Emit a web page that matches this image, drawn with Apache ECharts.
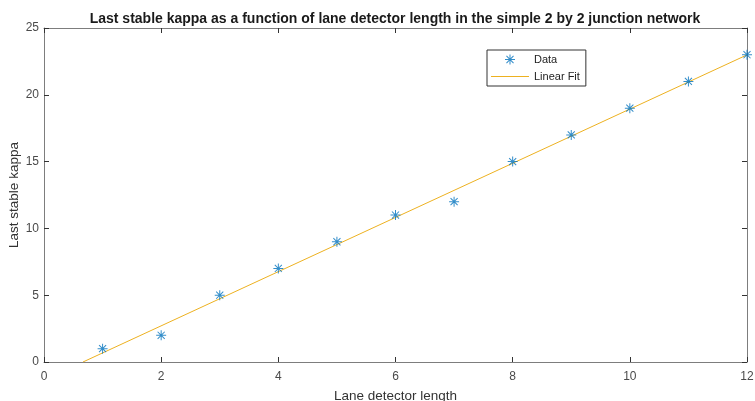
<!DOCTYPE html>
<html>
<head>
<meta charset="utf-8">
<script src="https://cdn.jsdelivr.net/npm/echarts@6/dist/echarts.min.js"></script>
<style>
  html, body { margin: 0; padding: 0; background: #fff; }
  #chart { width: 755px; height: 401px; }
</style>
</head>
<body>
<div id="chart"></div>
<script>
// Lane detector length vs. last stable kappa
const detectorLength = [1, 2, 3, 4, 5, 6, 7, 8, 9, 10, 11, 12];
const stableKappa = [1, 2, 5, 7, 9, 11, 12, 15, 17, 19, 21, 23];
const xTicks = [0, 2, 4, 6, 8, 10, 12];
const yTicks = [0, 5, 10, 15, 20, 25];

// Least-squares straight line through the measurements
function linearFit(xs, ys) {
  const n = xs.length;
  const mx = xs.reduce((a, b) => a + b, 0) / n;
  const my = ys.reduce((a, b) => a + b, 0) / n;
  let sxy = 0, sxx = 0;
  for (let i = 0; i < n; i++) {
    sxy += (xs[i] - mx) * (ys[i] - my);
    sxx += (xs[i] - mx) * (xs[i] - mx);
  }
  const slope = sxy / sxx;
  return { slope, intercept: my - slope * mx };
}
const fit = linearFit(detectorLength, stableKappa);
const fitStart = -fit.intercept / fit.slope; // where the fit crosses kappa = 0
const fitLine = [[fitStart, 0], [12, fit.slope * 12 + fit.intercept]];

// Asterisk marker: vertical, horizontal and two diagonal strokes
const asterisk = 'path://M9 0L11 0L11 20L9 20Z' +
  'M0 9L20 9L20 11L0 11Z' +
  'M3.64 2.22L17.78 16.36L16.36 17.78L2.22 3.64Z' +
  'M16.36 2.22L17.78 3.64L3.64 17.78L2.22 16.36Z';
const legendLine = 'path://M0 4.5L40 4.5L40 5.5L0 5.5Z';

const axisColor = '#7d7d7d';
const labelColor = '#4a4a4a';
const font = 'Liberation Sans, Arial, Helvetica, sans-serif';
const tickStyle = { show: true, inside: true, length: 5, lineStyle: { color: '#333' } };
const lineStyle = { show: true, onZero: false, lineStyle: { color: axisColor, width: 1 } };

const chart = echarts.init(document.getElementById('chart'), null, { renderer: 'canvas' });
chart.setOption({
  animation: false,
  backgroundColor: '#ffffff',
  title: {
    text: 'Last stable kappa as a function of lane detector length in the simple 2 by 2 junction network',
    left: 390, textAlign: 'center', top: 7,
    textStyle: { fontFamily: font, fontSize: 14, fontWeight: 'bold', color: '#1a1a1a' }
  },
  grid: { left: 44, right: 8, top: 28, bottom: 39, containLabel: false, outerBoundsMode: 'none' },
  legend: {
    orient: 'vertical',
    left: 487, top: 50,
    itemWidth: 38, itemHeight: 10, itemGap: 6,
    padding: [4, 6, 4, 4],
    borderColor: '#333', borderWidth: 1, borderRadius: 0,
    backgroundColor: '#fff',
    textStyle: { fontFamily: font, fontSize: 11, color: '#222' },
    data: [
      { name: 'Data', icon: asterisk, itemStyle: { color: '#0072BD' } },
      { name: 'Linear Fit', icon: legendLine, itemStyle: { color: '#EDB120' } }
    ]
  },
  xAxis: [
    {
      type: 'value', position: 'bottom', min: 0, max: 12, interval: 2,
      name: 'Lane detector length', nameLocation: 'middle', nameGap: 27,
      nameTextStyle: { fontFamily: font, fontSize: 13.5, color: '#333' },
      axisLine: lineStyle,
      axisTick: tickStyle,
      axisLabel: { fontFamily: font, fontSize: 12, color: labelColor, margin: 9 },
      splitLine: { show: false }
    },
    {
      type: 'value', position: 'top', min: 0, max: 12, interval: 2,
      axisLine: lineStyle,
      axisTick: tickStyle,
      axisLabel: { show: false }, splitLine: { show: false }
    }
  ],
  yAxis: [
    {
      type: 'value', position: 'left', min: 0, max: 25, interval: 5,
      name: 'Last stable kappa', nameLocation: 'middle', nameGap: 23,
      nameMoveOverlap: false,
      nameTextStyle: { fontFamily: font, fontSize: 13.5, color: '#333' },
      axisLine: lineStyle,
      axisTick: tickStyle,
      axisLabel: { fontFamily: font, fontSize: 12, color: labelColor, margin: 5 },
      splitLine: { show: false }
    },
    {
      type: 'value', position: 'right', min: 0, max: 25, interval: 5,
      axisLine: lineStyle,
      axisTick: tickStyle,
      axisLabel: { show: false }, splitLine: { show: false }
    }
  ],
  series: [
    {
      name: 'Data', type: 'scatter', xAxisIndex: 0, yAxisIndex: 0,
      symbol: asterisk, symbolSize: 10,
      itemStyle: { color: '#0072BD' },
      data: detectorLength.map((x, i) => [x, stableKappa[i]]),
      z: 3
    },
    {
      name: 'Linear Fit', type: 'line', xAxisIndex: 0, yAxisIndex: 0,
      symbol: 'none', clip: true,
      lineStyle: { color: '#EDB120', width: 1 },
      itemStyle: { color: '#EDB120' },
      data: fitLine,
      z: 2
    },
    {
      // keeps the top and right frame axes active
      name: 'frame', type: 'scatter', xAxisIndex: 1, yAxisIndex: 1,
      data: [], silent: true
    }
  ]
});
</script>
</body>
</html>
